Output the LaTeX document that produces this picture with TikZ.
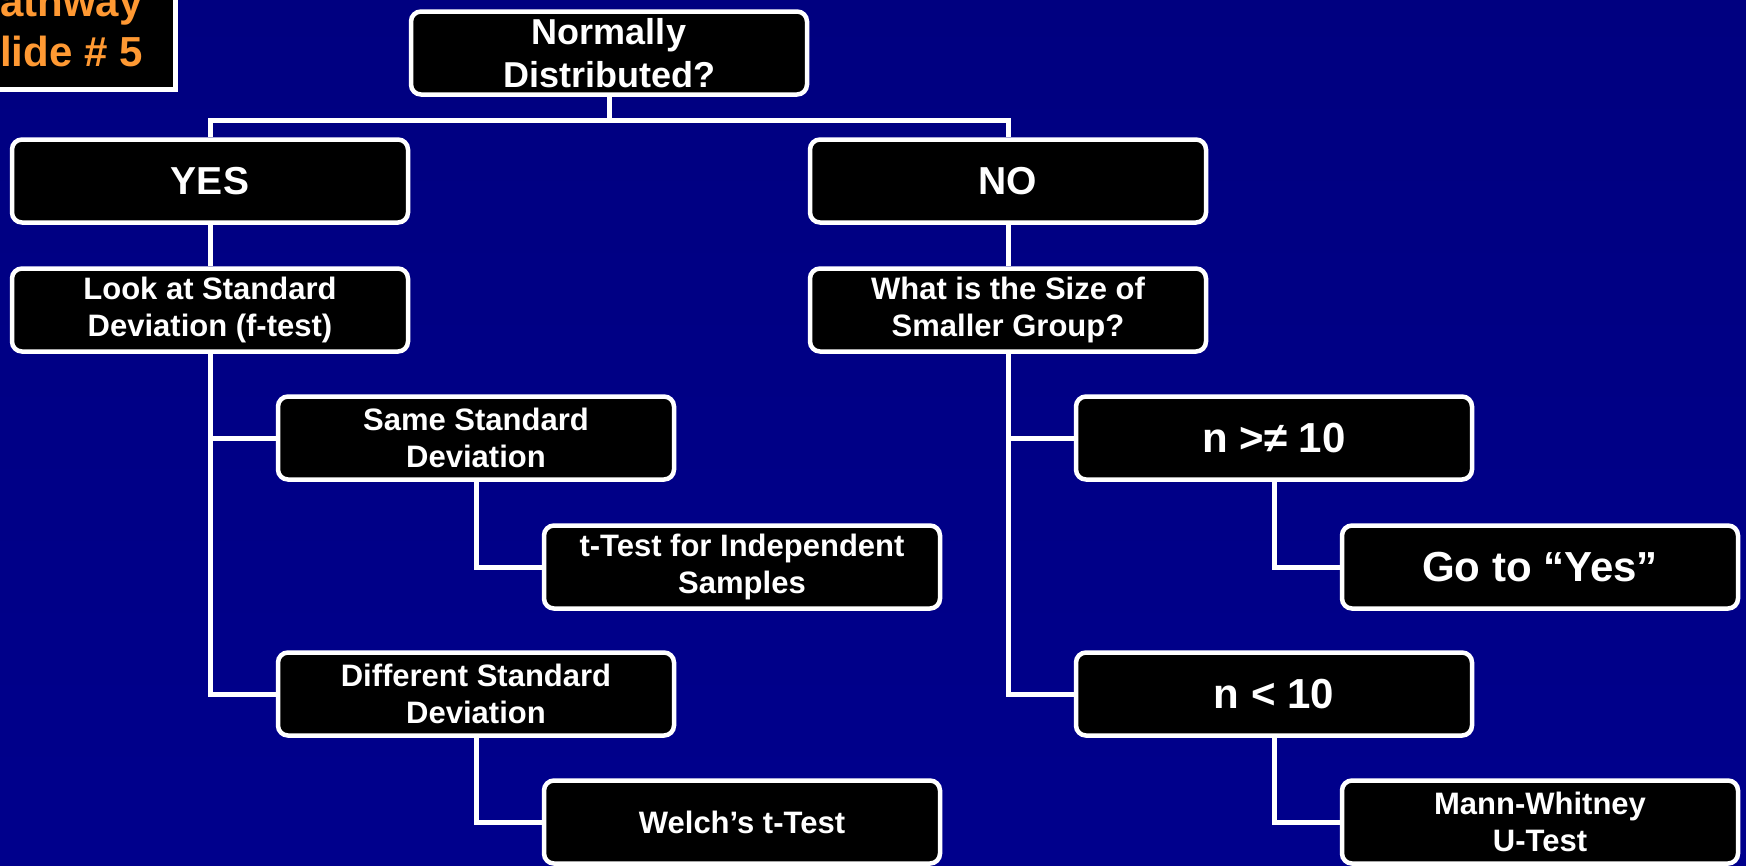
\documentclass[tikz,border=0pt]{standalone}
\usepackage{fontspec}
\setmainfont{Liberation Sans}
\definecolor{slidetop}{RGB}{0,0,128}
\definecolor{slidemid}{RGB}{0,0,102}
\definecolor{slidelow}{RGB}{0,0,140}
\definecolor{pathorange}{RGB}{255,153,51}

\begin{document}
\begin{tikzpicture}[x=1pt,y=-1pt,
  box/.style={draw=white,fill=black,line width=4.5pt,rounded corners=10pt,
    minimum width=396pt,minimum height=83pt,inner sep=0pt,align=center,
    text=white,font=\bfseries\fontsize{31}{37}\selectfont},
  mid/.style={font=\bfseries\fontsize{36}{43}\selectfont},
  answer/.style={font=\bfseries\fontsize{39}{46}\selectfont},
  big/.style={font=\bfseries\fontsize{42}{50}\selectfont},
  link/.style={draw=white,line width=5pt}]
  % slide background
  \useasboundingbox (0,0) rectangle (1746,865);
  \clip (0,0) rectangle (1746,865);
  \shade[top color=slidetop,middle color=slidemid,bottom color=slidelow] (0,0) rectangle (1746,865);
  % pathway tag (cut by the slide edge)
  \draw[white,fill=black,line width=5pt] (-90,-90) rectangle (175.5,89.5);
  \node[anchor=base,text=pathorange,big] (pathA) at (57.5,16) {Pathway};
  \node[anchor=base,text=pathorange,big] (pathB) at (57.5,66) {Slide \# 5};
  % question and answers
  \node[box,mid] (norm) at (609,53) {Normally\\Distributed?};
  \node[box,answer] (yes) at (210,181) {YES};
  \node[box,answer] (no) at (1008,181) {NO};
  \coordinate (fork) at (609,120);
  % normal branch
  \node[box] (look) at (210,310) {Look at Standard\\Deviation (f-test)};
  \node[box] (same) at (476,438) {Same Standard\\Deviation};
  \node[box] (indep) at (742,567) {t-Test for Independent\\Samples};
  \node[box] (diff) at (476,694) {Different Standard\\Deviation};
  \node[box] (welch) at (742,822) {Welch’s t-Test};
  % non-normal branch
  \node[box] (size) at (1008,310) {What is the Size of\\Smaller Group?};
  \node[box,big] (ngeq) at (1274,438) {n >≠ 10};
  \node[box,big] (goyes) at (1540,567) {Go to “Yes”};
  \node[box,big] (nless) at (1274,694) {n < 10};
  \node[box] (mann) at (1540,822) {Mann-Whitney\\U-Test};
  % connectors
  \draw[link] (norm.south) -- (fork);
  \draw[link] (yes.north) |- (fork) -| (no.north);
  \draw[link] (yes.south) -- (look.north);
  \draw[link] (no.south) -- (size.north);
  \draw[link] (look.south) |- (same.west);
  \draw[link] (look.south) |- (diff.west);
  \draw[link] (same.south) |- (indep.west);
  \draw[link] (diff.south) |- (welch.west);
  \draw[link] (size.south) |- (ngeq.west);
  \draw[link] (size.south) |- (nless.west);
  \draw[link] (ngeq.south) |- (goyes.west);
  \draw[link] (nless.south) |- (mann.west);
\end{tikzpicture}
\end{document}
